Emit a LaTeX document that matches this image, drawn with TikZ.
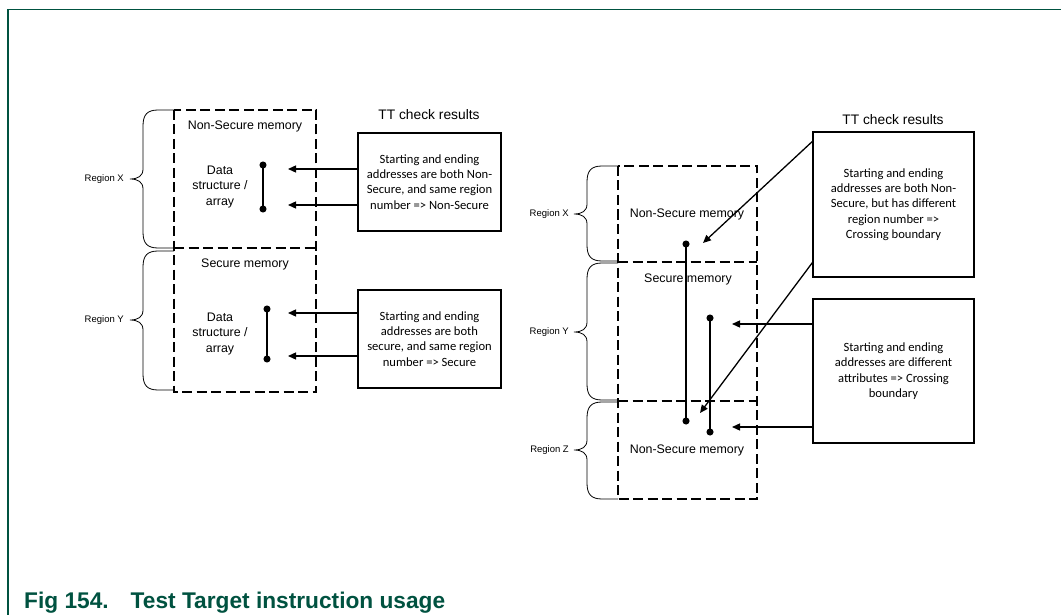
\documentclass[tikz,border=0pt]{standalone}
\usepackage{fontspec}
\setmainfont{Liberation Sans}
\newfontfamily\calibri{Carlito}
\usetikzlibrary{arrows.meta}
\definecolor{nxpgreen}{RGB}{0,82,64}

\begin{document}
\begin{tikzpicture}[
  x=1pt, y=-1pt,
  frame/.style={draw=nxpgreen, line width=1.3pt},
  mem/.style={draw, line width=1.5pt, dash pattern=on 10pt off 4.5pt},
  brc/.style={draw, line width=0.8pt},
  memlbl/.style={font=\fontsize{12.4}{15.5}\selectfont, align=center, inner sep=0pt},
  head/.style={font=\fontsize{13.8}{16}\selectfont, inner sep=0pt},
  rgn/.style={font=\fontsize{9.5}{11}\selectfont, inner sep=0pt, anchor=east},
  chk/.style={draw, line width=1.2pt, align=center, inner sep=0pt,
              font=\calibri\fontsize{12.6}{15.3}\selectfont},
  res/.style={-{Triangle[length=8pt,width=7pt]}, line width=1.3pt},
  bar/.style={{Circle[length=7pt]}-{Circle[length=7pt]}, line width=1.4pt,
              shorten <=-3.5pt, shorten >=-3.5pt},
  figlbl/.style={font=\bfseries\fontsize{22.7}{27}\selectfont, text=nxpgreen,
              inner sep=0pt, anchor=base west},
]
  \useasboundingbox (0,0) rectangle (1061,615);
  \draw[frame] (1061,9.5) -- (8,9.5) -- (8,615);

  % left: one region per check
  \draw[mem] (174,110) rectangle (316,392);
  \draw[mem] (174,248) -- (316,248);
  \draw[brc] (174,110) -- (158,110) .. controls (147,110) and (143,115) .. (143,126) -- (143,169) .. controls (143,176) and (138,179) .. (130,179) .. controls (138,179) and (143,182) .. (143,189) -- (143,232) .. controls (143,243) and (147,248) .. (158,248) -- (174,248);
  \draw[brc] (174,251) -- (158,251) .. controls (147,251) and (143,256) .. (143,267) -- (143,310) .. controls (143,317) and (138,320) .. (130,320) .. controls (138,320) and (143,323) .. (143,330) -- (143,374) .. controls (143,385) and (147,390) .. (158,390) -- (174,390);
  \node[rgn] (lRgnX) at (124,179) {Region X};
  \node[rgn] (lRgnY) at (124,320) {Region Y};
  \node[memlbl] (lNSmem) at (245,126) {Non-Secure memory};
  \node[memlbl] (lSmem) at (245,264) {Secure memory};
  \node[memlbl] (lDataX) at (220,187) {Data\\structure /\\array};
  \node[memlbl] (lDataY) at (220,334) {Data\\structure /\\array};
  \node[head] (lTT) at (429,115) {TT check results};
  \node[chk, minimum width=143pt, minimum height=98pt] (lChkX) at (429.5,182)
    {Starting and ending\\addresses are both Non-\\Secure, and same region\\number => Non-Secure};
  \node[chk, minimum width=143pt, minimum height=98pt] (lChkY) at (429.5,339)
    {Starting and ending\\addresses are both\\secure, and same region\\number => Secure};
  \coordinate (lXtop) at (263,165);
  \coordinate (lXbot) at (263,209);
  \coordinate (lYtop) at (267,309);
  \coordinate (lYbot) at (267,359);
  \coordinate (lXa) at (288,169);
  \coordinate (lXb) at (288,205);
  \coordinate (lYa) at (288,313);
  \coordinate (lYb) at (288,356);
  \draw[bar] (lXtop) -- (lXbot);
  \draw[bar] (lYtop) -- (lYbot);
  \draw[res] (lChkX.west |- lXa) -- (lXa);
  \draw[res] (lChkX.west |- lXb) -- (lXb);
  \draw[res] (lChkY.west |- lYa) -- (lYa);
  \draw[res] (lChkY.west |- lYb) -- (lYb);

  % right: accesses that cross a boundary
  \draw[mem] (618,166) rectangle (757,499);
  \draw[mem] (618,262) -- (757,262);
  \draw[mem] (618,401) -- (757,401);
  \draw[brc] (618,166) -- (602,166) .. controls (591,166) and (587,171) .. (587,182) -- (587,204) .. controls (587,211) and (582,214) .. (574,214) .. controls (582,214) and (587,217) .. (587,224) -- (587,245) .. controls (587,256) and (591,261) .. (602,261) -- (618,261);
  \draw[brc] (618,263) -- (602,263) .. controls (591,263) and (587,268) .. (587,279) -- (587,322) .. controls (587,329) and (582,332) .. (574,332) .. controls (582,332) and (587,335) .. (587,342) -- (587,384) .. controls (587,395) and (591,400) .. (602,400) -- (618,400);
  \draw[brc] (618,402) -- (602,402) .. controls (591,402) and (587,407) .. (587,418) -- (587,440) .. controls (587,447) and (582,450) .. (574,450) .. controls (582,450) and (587,453) .. (587,460) -- (587,483) .. controls (587,494) and (591,499) .. (602,499) -- (618,499);
  \node[rgn] (rRgnX) at (569,214) {Region X};
  \node[rgn] (rRgnY) at (569,332) {Region Y};
  \node[rgn] (rRgnZ) at (569,450) {Region Z};
  \node[memlbl] (rNSmemX) at (687,214) {Non-Secure memory};
  \node[memlbl] (rSmem) at (688,279) {Secure memory};
  \node[memlbl] (rNSmemZ) at (687,450) {Non-Secure memory};
  \node[head] (rTT) at (893,120) {TT check results};
  \node[chk, minimum width=161pt, minimum height=145pt] (rChk1) at (893.5,204.5)
    {Starting and ending\\addresses are both Non-\\Secure, but has different\\region number =>\\Crossing boundary};
  \node[chk, minimum width=161pt, minimum height=144pt] (rChk2) at (893.5,371)
    {Starting and ending\\addresses are different\\attributes => Crossing\\boundary};
  \coordinate (r1top) at (686,244);
  \coordinate (r1bot) at (686,421);
  \coordinate (r2top) at (710,318);
  \coordinate (r2bot) at (710,432);
  \coordinate (r1a) at (703,243);
  \coordinate (r1b) at (700,413);
  \coordinate (r2a) at (732,324);
  \coordinate (r2b) at (732,427);
  \draw[bar] (r1top) -- (r1bot);
  \draw[bar] (r2top) -- (r2bot);
  \draw[res] ([yshift=-10pt]rChk1.north west) -- (r1a);
  \draw[res] ([yshift=15pt]rChk1.south west) -- (r1b);
  \draw[res] (rChk2.west |- r2a) -- (r2a);
  \draw[res] (rChk2.west |- r2b) -- (r2b);

  \node[figlbl] (figcap) at (24,608) {Fig 154.\hspace{22pt}Test Target instruction usage};
\end{tikzpicture}
\end{document}
